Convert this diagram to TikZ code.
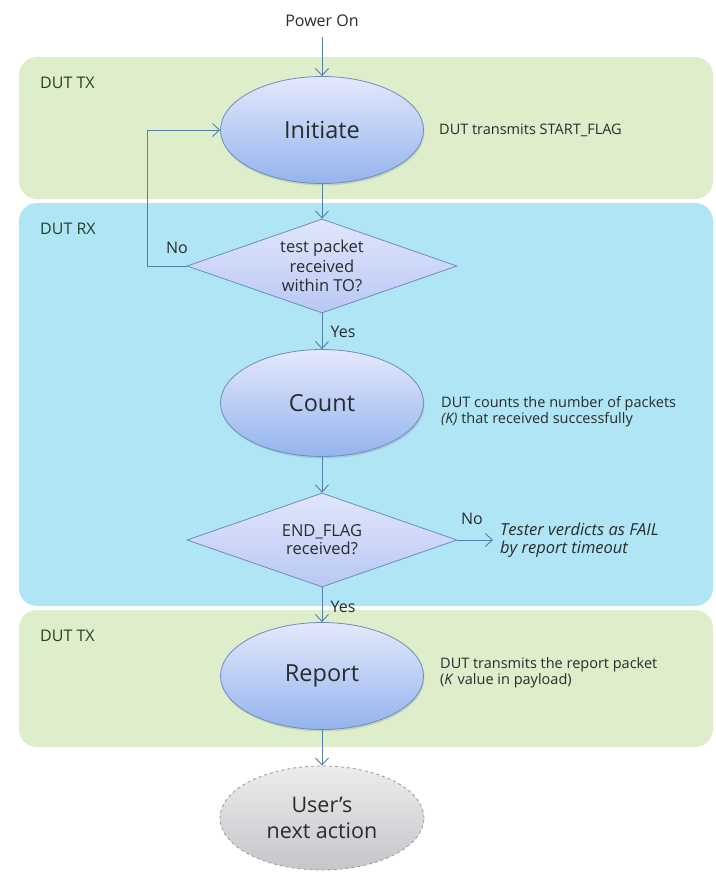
\documentclass[tikz,border=0pt]{standalone}
\usepackage{fontspec}
\setmainfont{Open Sans}
\usetikzlibrary{shapes.geometric,arrows.meta,shadows}

\definecolor{bandgreen}{RGB}{222,238,203}
\definecolor{bandblue}{RGB}{176,229,246}
\definecolor{steptop}{RGB}{228,232,251}
\definecolor{stepbot}{RGB}{148,180,238}
\definecolor{asktop}{RGB}{226,230,251}
\definecolor{askbot}{RGB}{184,200,245}
\definecolor{stepedge}{RGB}{108,140,190}
\definecolor{flowline}{RGB}{82,128,168}
\definecolor{greytop}{RGB}{236,236,238}
\definecolor{greybot}{RGB}{198,198,202}
\definecolor{ink}{RGB}{40,44,44}

\tikzset{
    stepnode/.style={ellipse, draw=stepedge, line width=0.8pt,
        top color=steptop, bottom color=stepbot,
        minimum width=203pt, minimum height=107pt, inner sep=0pt,
        drop shadow={shadow xshift=1pt, shadow yshift=-2pt, opacity=0.25},
        text=ink, font=\fontsize{23.5}{26}\selectfont},
    asknode/.style={diamond, draw=stepedge, line width=0.8pt,
        top color=asktop, bottom color=askbot,
        minimum width=270pt, minimum height=94pt, inner sep=0pt,
        aspect=2.87, align=center, text=ink,
        font=\fontsize{16.5}{19.5}\selectfont},
    flow/.style={draw=flowline, line width=0.9pt,
        -{Straight Barb[length=7pt,width=13pt,line width=0.9pt]}},
    note/.style={anchor=west, align=left, text=ink, inner sep=0pt,
        font=\fontsize{14.5}{16}\selectfont},
    lbl/.style={text=ink, inner sep=0pt, font=\fontsize{16}{18}\selectfont},
    bandlbl/.style={anchor=west, text=ink!90!green, inner sep=0pt,
        font=\fontsize{16}{18}\selectfont}
}

\begin{document}
\begin{tikzpicture}[x=1pt,y=-1pt]
    \useasboundingbox[fill=white] (0,0) rectangle (715,872);
    % bands
    \fill[bandgreen, rounded corners=18pt] (19,57) rectangle (713,199);
    \fill[bandblue, rounded corners=18pt] (19,203) rectangle (713,606);
    \fill[bandgreen, rounded corners=18pt] (19,610) rectangle (713,747);
    \node[bandlbl] (txfirst) at (40,83) {DUT TX};
    \node[bandlbl] (rxband) at (40,229) {DUT RX};
    \node[bandlbl] (txlast) at (40,636) {DUT TX};

    % flow
    \node[lbl] (power) at (322,21) {Power On};
    \node[stepnode] (init) at (322,130) {Initiate};
    \node[asknode] (testrx) at (322,266) {test packet\\received\\within TO?};
    \node[stepnode] (count) at (322,403) {Count};
    \node[asknode, font=\fontsize{16.5}{18}\selectfont] (endrx) at (322,540) {END\_FLAG\\received?};
    \node[stepnode] (report) at (322,676) {Report};
    \node[ellipse, draw=gray!80, dashed, line width=0.8pt,
        top color=greytop, bottom color=greybot,
        minimum width=204pt, minimum height=104pt, inner sep=0pt,
        align=center, text=ink, font=\fontsize{21.5}{26}\selectfont]
        (next) at (322,818) {User's\\next action};

    \node[note] (initnote) at (439,130) {DUT transmits START\_FLAG};
    \node[note] (countnote) at (441,412) {DUT counts the number of packets\\\textit{(K)} that received successfully};
    \node[note] (reportnote) at (440,673) {DUT transmits the report packet\\(\textit{K} value in payload)};
    \node[note, inner xsep=7pt, font=\itshape\fontsize{16.5}{18}\selectfont]
        (failnote) at (493,540) {Tester verdicts as FAIL\\by report timeout};

    \draw[flow, shorten <=10pt] (power.south) -- (init.north);
    \draw[flow] (init) -- (testrx);
    \draw[flow] (testrx.west) -- ++(-39,0) |- (init.west);
    \draw[flow] (testrx) -- (count);
    \draw[flow] (count) -- (endrx);
    \draw[flow] (endrx.east) -- (failnote.west);
    \draw[flow] (endrx) -- (report);
    \draw[flow] (report) -- (next);

    \node[lbl] (noloop) at (177,248) {No};
    \node[lbl] (yesfirst) at (343,332) {Yes};
    \node[lbl] (nofail) at (472,519) {No};
    \node[lbl] (yeslast) at (343,607) {Yes};
\end{tikzpicture}
\end{document}
